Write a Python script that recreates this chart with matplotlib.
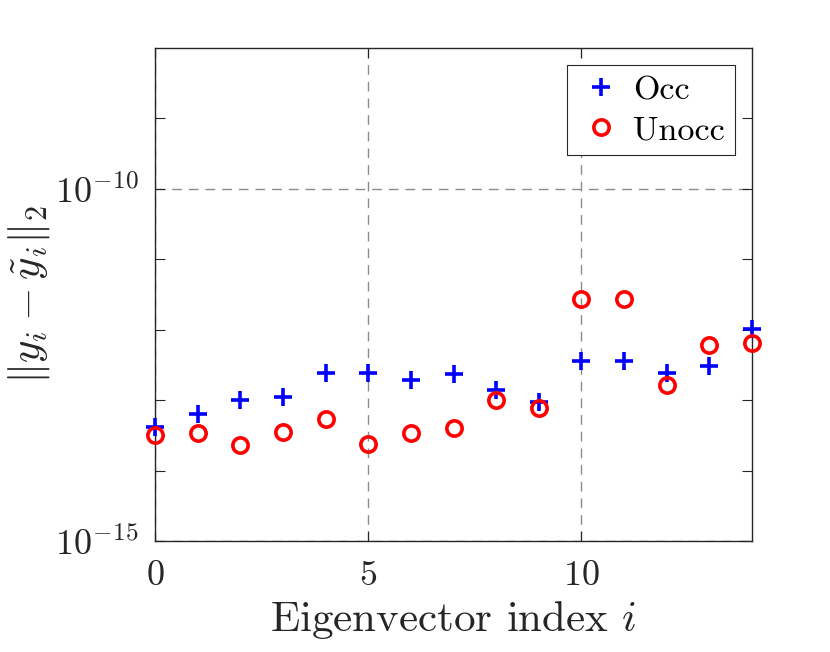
import matplotlib
matplotlib.use('Agg')
import matplotlib.pyplot as plt
import numpy as np
from matplotlib.ticker import FixedLocator, LogFormatterSciNotation, NullFormatter

plt.rcParams['font.family'] = 'serif'
plt.rcParams['font.serif'] = ['cmr10', 'DejaVu Serif']
plt.rcParams['mathtext.fontset'] = 'cm'
plt.rcParams['axes.formatter.use_mathtext'] = True
plt.rcParams['axes.unicode_minus'] = False

# eigenvector indices and log10 of the errors
index = np.arange(15)
occ_log = [-13.38, -13.20, -13.00, -12.96, -12.61, -12.61, -12.71, -12.63,
           -12.85, -13.02, -12.45, -12.45, -12.61, -12.51, -11.99]
unocc_log = [-13.49, -13.46, -13.63, -13.45, -13.27, -13.62, -13.46, -13.40,
             -13.00, -13.11, -11.57, -11.57, -12.78, -12.21, -12.19]

occ = 10.0 ** np.array(occ_log)
unocc = 10.0 ** np.array(unocc_log)

axcol = '0.15'
tick_fs = 26
label_fs = 31
legend_fs = 24.5

fig = plt.figure(figsize=(8.3, 6.52), dpi=100)
ax = fig.add_axes([155 / 830, 1 - 541 / 652, 597 / 830, 493 / 652])

ax.semilogy(index, occ, '+', color='blue', markersize=13.5, markeredgewidth=2.6,
            linestyle='none', label='Occ', clip_on=False, zorder=3)
ax.semilogy(index, unocc, 'o', color='red', markerfacecolor='none', markersize=11,
            markeredgewidth=2.6, linestyle='none', label='Unocc', clip_on=False,
            zorder=3)

ax.set_xlim(0, 14)
ax.set_ylim(1e-15, 1e-8)
ax.set_xticks([0, 5, 10])
ax.yaxis.set_major_locator(FixedLocator([1e-15, 1e-10]))
ax.yaxis.set_major_formatter(LogFormatterSciNotation())
ax.yaxis.set_minor_locator(FixedLocator([1e-14, 1e-13, 1e-12, 1e-11, 1e-9]))
ax.yaxis.set_minor_formatter(NullFormatter())

ax.grid(True, which='major', linestyle=(0, (7, 5)), color='0.55', linewidth=1.0)
ax.tick_params(which='both', direction='in', top=True, right=True, colors=axcol,
               labelsize=tick_fs, width=0.8)
ax.tick_params(which='major', length=7)
ax.tick_params(which='minor', length=7)
ax.tick_params(axis='x', pad=14)
ax.tick_params(axis='y', pad=12)
for s in ax.spines.values():
    s.set_color(axcol)
    s.set_linewidth(1.0)

ax.set_xlabel(r'Eigenvector index $i$', fontsize=label_fs, color=axcol, labelpad=5)
ax.set_ylabel(r'$\|y_i - \tilde{y}_i\|_2$', fontsize=label_fs, color=axcol, labelpad=2)

leg = ax.legend(loc='upper right', fontsize=legend_fs, fancybox=False, framealpha=1,
                edgecolor=axcol, borderaxespad=0.5, handletextpad=0.25,
                handlelength=1.4, borderpad=0.3, labelspacing=0.3)
leg.get_frame().set_linewidth(0.8)

fig.savefig('out.png', dpi=100)
